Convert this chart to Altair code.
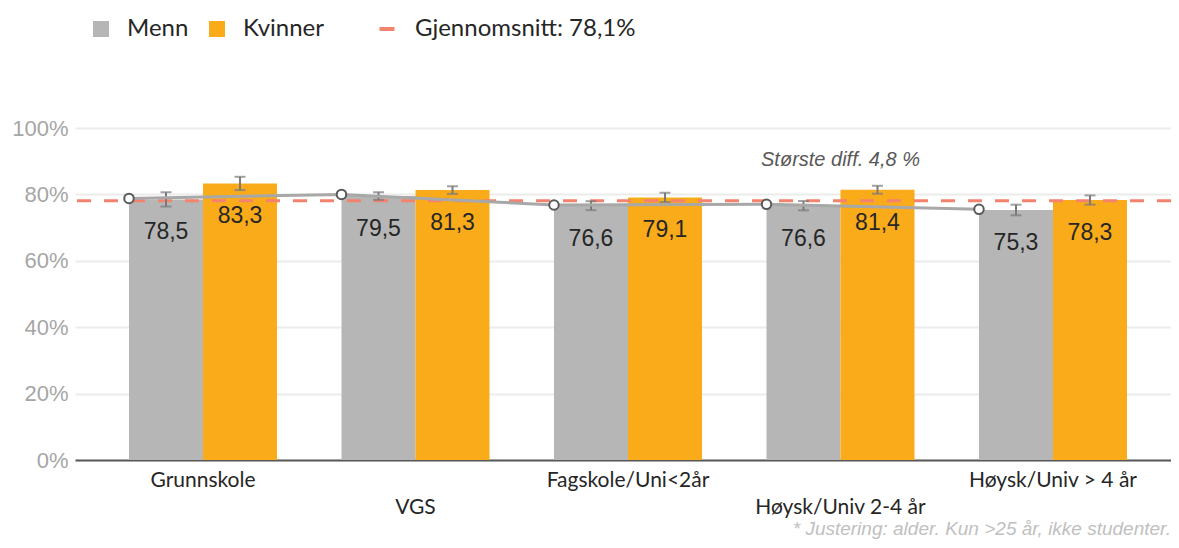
import json
import altair as alt
import pandas as pd

kategorier = ["Grunnskole", "VGS", "Fagskole/Uni<2år", "Høysk/Univ 2-4 år", "Høysk/Univ > 4 år"]
kjonn = ["Menn", "Kvinner"]
menn = [78.5, 79.5, 76.6, 76.6, 75.3]
kvinner = [83.3, 81.3, 79.1, 81.4, 78.3]
menn_feil = [2.15, 1.15, 1.35, 1.4, 1.6]
kvinner_feil = [2.0, 1.15, 1.4, 1.2, 1.4]
linje = [78.8, 80.0, 76.8, 77.0, 75.5]
snitt = 78.1
snitt_tekst = "Gjennomsnitt: 78,1%"
fotnote = "* Justering: alder. Kun >25 år, ikke studenter."

GREY = "#b6b6b6"
ORANGE = "#f9ab1a"
SALMON = "#f4826c"

rows = []
for i, k in enumerate(kategorier):
    for g, vals, errs in (("Menn", menn, menn_feil), ("Kvinner", kvinner, kvinner_feil)):
        v = vals[i]
        e = errs[i]
        rows.append({"kat": k, "kjonn": g, "verdi": v, "lo": v - e, "hi": v + e,
                     "lbl": f"{v:.1f}".replace(".", ",")})
df = pd.DataFrame(rows)

df_line = pd.DataFrame({"kat": kategorier, "verdi": linje})

diffs = [kv - m for kv, m in zip(kvinner, menn)]
imax = max(range(len(diffs)), key=lambda i: diffs[i])
df_ann = pd.DataFrame({"kat": [kategorier[imax]], "verdi": [kvinner[imax]],
                       "txt": ["Største diff. " + f"{diffs[imax]:.1f}".replace(".", ",") + " %"]})

df_avg = pd.DataFrame({"verdi": [snitt], "navn": [snitt_tekst]})

stagger = json.dumps(kategorier[1::2], ensure_ascii=False)
x_axis = alt.Axis(title=None, labelAngle=0, ticks=False, domainColor="#595959", domainWidth=2,
                  labelFont="Lato", labelFontSize=21, labelColor="#262626", labelPadding=9,
                  labelLineHeight=27, labelLimit=0,
                  labelExpr=f"indexof({stagger}, datum.label) >= 0 ? ['', datum.label] : datum.label")
x_scale = alt.Scale(paddingInner=0.3035, paddingOuter=0.2306, align=0.551)

def X(**kw):
    return alt.X("kat:N", sort=kategorier, scale=x_scale, axis=x_axis, **kw)

xoff = alt.XOffset("kjonn:N", sort=kjonn, scale=alt.Scale(paddingInner=0, paddingOuter=0))
y_scale = alt.Scale(domain=[0, 100])
y_axis = alt.Axis(title=None, values=[0, 20, 40, 60, 80, 100], labelExpr="datum.value + '%'",
                  domain=False, ticks=False, gridColor="#ececec", gridWidth=2,
                  labelFont="Liberation Sans", labelFontSize=22, labelColor="#a6a6a6", labelPadding=7)

bars = alt.Chart(df).mark_bar().encode(
    x=X(), xOffset=xoff,
    y=alt.Y("verdi:Q", scale=y_scale, axis=y_axis),
    color=alt.Color("kjonn:N", sort=kjonn, scale=alt.Scale(domain=kjonn, range=[GREY, ORANGE]),
                    legend=alt.Legend(orient="none", legendX=14, legendY=-111, direction="horizontal",
                                      title=None, symbolType="square", symbolSize=256,
                                      symbolStrokeWidth=0, labelFont="Lato", labelFontSize=24,
                                      labelColor="#262626", labelOffset=14, columnPadding=16,
                                      labelLimit=0)),
)

labels = alt.Chart(df).mark_text(font="Liberation Sans", fontSize=23, color="#262626",
                                 dy=33, baseline="middle").encode(
    x=X(), xOffset=xoff, y=alt.Y("verdi:Q", scale=y_scale, title=None), text="lbl:N")

err = alt.Chart(df).mark_rule(color="#7a7a7a", strokeWidth=2).encode(
    x=X(), xOffset=xoff, y=alt.Y("lo:Q", scale=y_scale, title=None), y2="hi:Q")

caps = alt.Chart(df).transform_fold(["lo", "hi"], as_=["ende", "v"]).mark_tick(
    color="#7a7a7a", thickness=2, size=11).encode(
    x=X(), xOffset=xoff, y=alt.Y("v:Q", scale=y_scale, title=None))

avg = alt.Chart(df_avg).mark_rule(strokeDash=[14, 13], strokeWidth=3).encode(
    y=alt.Y("verdi:Q", scale=y_scale, title=None),
    stroke=alt.Stroke("navn:N", scale=alt.Scale(range=[SALMON]),
                      legend=alt.Legend(orient="none", legendX=300, legendY=-111, title=None,
                                        symbolType="stroke", symbolSize=225, symbolStrokeWidth=4,
                                        symbolDash=[1, 0], labelFont="Lato", labelFontSize=24,
                                        labelColor="#262626", labelOffset=16, labelLimit=0)),
)

line = alt.Chart(df_line).mark_line(color="#a8a8a8", strokeWidth=3).encode(
    x=X(bandPosition=0), y=alt.Y("verdi:Q", scale=y_scale, title=None))
pts = alt.Chart(df_line).mark_point(shape="circle", filled=False, fill="white", stroke="#595959",
                                    strokeWidth=2, size=90, opacity=1).encode(
    x=X(bandPosition=0), y=alt.Y("verdi:Q", scale=y_scale, title=None))

ann = alt.Chart(df_ann).mark_text(font="Liberation Sans", fontSize=20, fontStyle="italic",
                                  color="#595959", dy=-30, baseline="middle").encode(
    x=X(), y=alt.Y("verdi:Q", scale=y_scale, title=None), text="txt:N")

foot = alt.Chart(alt.Data(values=[{"t": fotnote}])).mark_text(
    font="Liberation Sans", fontSize=19, fontStyle="italic", color="#c0c0c0",
    align="right", baseline="middle").encode(
    x=alt.value(1096), y=alt.value(401), text="t:N")

chart = alt.layer(bars, avg, err, caps, labels, line, pts, ann, foot).resolve_scale(
    color="independent", stroke="independent"
).properties(
    width=1096, height=332,
    autosize=alt.AutoSizeParams(type="none"),
    padding={"left": 67, "top": 120, "right": 0, "bottom": 80},
    background="white",
).configure_view(stroke=None)

chart.save("out.html", embed_options={"renderer": "svg", "actions": False})
